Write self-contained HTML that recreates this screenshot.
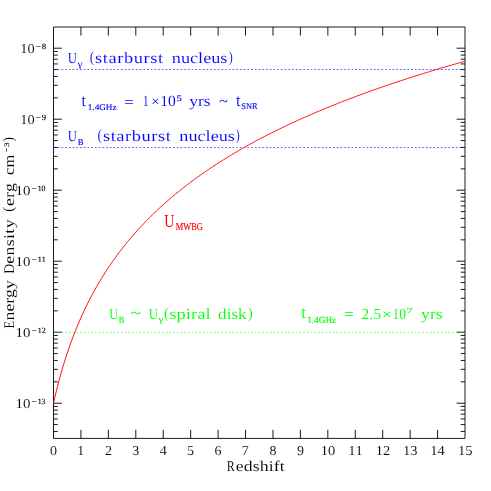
<!DOCTYPE html>
<html><head><meta charset="utf-8"><title>Energy density vs redshift</title>
<style>
html,body{margin:0;padding:0;background:#fff;}
body{width:491px;height:491px;overflow:hidden;font-family:"Liberation Serif",serif;}
svg{display:block;}
svg text{font-family:"Liberation Serif",serif;font-kerning:none;text-rendering:geometricPrecision;}
svg text.e{stroke:#fff;stroke-width:0.08;vector-effect:non-scaling-stroke;}
svg text.k{stroke-width:0.15;vector-effect:non-scaling-stroke;}
#w{will-change:transform;width:491px;height:491px;}
</style></head><body><div id="w">
<svg width="491" height="491" viewBox="0 0 491 491">
<path d="M53.5,27.0H465.0V438.4H53.5Z" fill="none" stroke="#000" stroke-width="0.9"/>
<path d="M80.93,438.4v-8.6M80.93,27.0v8.6M108.37,438.4v-8.6M108.37,27.0v8.6M135.80,438.4v-8.6M135.80,27.0v8.6M163.23,438.4v-8.6M163.23,27.0v8.6M190.67,438.4v-8.6M190.67,27.0v8.6M218.10,438.4v-8.6M218.10,27.0v8.6M245.53,438.4v-8.6M245.53,27.0v8.6M272.97,438.4v-8.6M272.97,27.0v8.6M300.40,438.4v-8.6M300.40,27.0v8.6M327.83,438.4v-8.6M327.83,27.0v8.6M355.27,438.4v-8.6M355.27,27.0v8.6M382.70,438.4v-8.6M382.70,27.0v8.6M410.13,438.4v-8.6M410.13,27.0v8.6M437.57,438.4v-8.6M437.57,27.0v8.6M53.5,431.45h4.3M465.0,431.45h-4.3M53.5,424.57h4.3M465.0,424.57h-4.3M53.5,418.95h4.3M465.0,418.95h-4.3M53.5,414.20h4.3M465.0,414.20h-4.3M53.5,410.08h4.3M465.0,410.08h-4.3M53.5,406.45h4.3M465.0,406.45h-4.3M53.5,403.20h8.4M465.0,403.20h-8.4M53.5,381.83h4.3M465.0,381.83h-4.3M53.5,369.32h4.3M465.0,369.32h-4.3M53.5,360.45h4.3M465.0,360.45h-4.3M53.5,353.57h4.3M465.0,353.57h-4.3M53.5,347.95h4.3M465.0,347.95h-4.3M53.5,343.20h4.3M465.0,343.20h-4.3M53.5,339.08h4.3M465.0,339.08h-4.3M53.5,335.45h4.3M465.0,335.45h-4.3M53.5,332.20h8.4M465.0,332.20h-8.4M53.5,310.83h4.3M465.0,310.83h-4.3M53.5,298.32h4.3M465.0,298.32h-4.3M53.5,289.45h4.3M465.0,289.45h-4.3M53.5,282.57h4.3M465.0,282.57h-4.3M53.5,276.95h4.3M465.0,276.95h-4.3M53.5,272.20h4.3M465.0,272.20h-4.3M53.5,268.08h4.3M465.0,268.08h-4.3M53.5,264.45h4.3M465.0,264.45h-4.3M53.5,261.20h8.4M465.0,261.20h-8.4M53.5,239.83h4.3M465.0,239.83h-4.3M53.5,227.32h4.3M465.0,227.32h-4.3M53.5,218.45h4.3M465.0,218.45h-4.3M53.5,211.57h4.3M465.0,211.57h-4.3M53.5,205.95h4.3M465.0,205.95h-4.3M53.5,201.20h4.3M465.0,201.20h-4.3M53.5,197.08h4.3M465.0,197.08h-4.3M53.5,193.45h4.3M465.0,193.45h-4.3M53.5,190.20h8.4M465.0,190.20h-8.4M53.5,168.83h4.3M465.0,168.83h-4.3M53.5,156.32h4.3M465.0,156.32h-4.3M53.5,147.45h4.3M465.0,147.45h-4.3M53.5,140.57h4.3M465.0,140.57h-4.3M53.5,134.95h4.3M465.0,134.95h-4.3M53.5,130.20h4.3M465.0,130.20h-4.3M53.5,126.08h4.3M465.0,126.08h-4.3M53.5,122.45h4.3M465.0,122.45h-4.3M53.5,119.20h8.4M465.0,119.20h-8.4M53.5,97.83h4.3M465.0,97.83h-4.3M53.5,85.32h4.3M465.0,85.32h-4.3M53.5,76.45h4.3M465.0,76.45h-4.3M53.5,69.57h4.3M465.0,69.57h-4.3M53.5,63.95h4.3M465.0,63.95h-4.3M53.5,59.20h4.3M465.0,59.20h-4.3M53.5,55.08h4.3M465.0,55.08h-4.3M53.5,51.45h4.3M465.0,51.45h-4.3M53.5,48.20h8.4M465.0,48.20h-8.4" fill="none" stroke="#000" stroke-width="0.9"/>
<path d="M54.0,69.50H464.5" stroke="#00f" stroke-opacity="0.62" stroke-width="1" stroke-dasharray="1.7 2.02" fill="none"/>
<path d="M54.0,147.50H464.5" stroke="#00f" stroke-opacity="0.62" stroke-width="1" stroke-dasharray="1.7 2.02" fill="none"/>
<path d="M54.0,332.40H464.5" stroke="#0f0" stroke-opacity="0.62" stroke-width="1" stroke-dasharray="1.7 2.02" fill="none"/>
<polyline points="53.50,403.20 54.87,397.18 56.24,391.44 57.62,385.96 58.99,380.71 60.36,375.68 61.73,370.84 63.10,366.19 64.47,361.70 65.84,357.37 67.22,353.19 68.59,349.15 69.96,345.23 71.33,341.43 72.70,337.75 74.08,334.18 75.45,330.70 76.82,327.32 78.19,324.03 79.56,320.83 80.93,317.71 82.31,314.66 83.68,311.69 85.05,308.79 86.42,305.95 87.79,303.18 89.16,300.47 90.53,297.82 91.91,295.22 93.28,292.68 94.65,290.19 96.02,287.74 97.39,285.35 98.77,283.00 100.14,280.69 101.51,278.43 102.88,276.21 104.25,274.02 105.62,271.88 107.00,269.77 108.37,267.70 109.74,265.66 111.11,263.65 112.48,261.68 113.85,259.74 115.22,257.83 116.60,255.94 117.97,254.09 119.34,252.26 120.71,250.46 122.08,248.68 123.45,246.94 124.83,245.21 126.20,243.51 127.57,241.83 128.94,240.18 130.31,238.54 131.69,236.93 133.06,235.34 134.43,233.77 135.80,232.21 137.17,230.68 138.54,229.17 139.91,227.67 141.29,226.20 142.66,224.74 144.03,223.29 145.40,221.87 146.77,220.46 148.15,219.07 149.52,217.69 150.89,216.32 152.26,214.98 153.63,213.64 155.00,212.32 156.38,211.02 157.75,209.73 159.12,208.45 160.49,207.18 161.86,205.93 163.23,204.69 164.60,203.47 165.98,202.25 167.35,201.05 168.72,199.86 170.09,198.67 171.46,197.51 172.83,196.35 174.21,195.20 175.58,194.06 176.95,192.94 178.32,191.82 179.69,190.71 181.06,189.62 182.44,188.53 183.81,187.45 185.18,186.39 186.55,185.33 187.92,184.28 189.30,183.24 190.67,182.21 192.04,181.18 193.41,180.17 194.78,179.16 196.15,178.16 197.53,177.17 198.90,176.19 200.27,175.21 201.64,174.24 203.01,173.29 204.38,172.33 205.75,171.39 207.13,170.45 208.50,169.52 209.87,168.59 211.24,167.68 212.61,166.77 213.98,165.86 215.36,164.97 216.73,164.08 218.10,163.19 219.47,162.31 220.84,161.44 222.22,160.58 223.59,159.72 224.96,158.86 226.33,158.02 227.70,157.17 229.07,156.34 230.44,155.51 231.82,154.68 233.19,153.86 234.56,153.05 235.93,152.24 237.30,151.44 238.68,150.64 240.05,149.85 241.42,149.06 242.79,148.27 244.16,147.50 245.53,146.72 246.91,145.95 248.28,145.19 249.65,144.43 251.02,143.68 252.39,142.93 253.76,142.18 255.13,141.44 256.51,140.70 257.88,139.97 259.25,139.25 260.62,138.52 261.99,137.80 263.37,137.09 264.74,136.38 266.11,135.67 267.48,134.97 268.85,134.27 270.22,133.57 271.60,132.88 272.97,132.20 274.34,131.51 275.71,130.83 277.08,130.16 278.45,129.48 279.82,128.82 281.20,128.15 282.57,127.49 283.94,126.83 285.31,126.18 286.68,125.53 288.06,124.88 289.43,124.23 290.80,123.59 292.17,122.96 293.54,122.32 294.91,121.69 296.28,121.06 297.66,120.44 299.03,119.82 300.40,119.20 301.77,118.58 303.14,117.97 304.51,117.36 305.89,116.76 307.26,116.15 308.63,115.55 310.00,114.96 311.37,114.36 312.75,113.77 314.12,113.18 315.49,112.60 316.86,112.01 318.23,111.43 319.60,110.86 320.98,110.28 322.35,109.71 323.72,109.14 325.09,108.57 326.46,108.01 327.83,107.44 329.21,106.89 330.58,106.33 331.95,105.77 333.32,105.22 334.69,104.67 336.06,104.13 337.44,103.58 338.81,103.04 340.18,102.50 341.55,101.96 342.92,101.43 344.29,100.89 345.67,100.36 347.04,99.84 348.41,99.31 349.78,98.79 351.15,98.26 352.52,97.74 353.89,97.23 355.27,96.71 356.64,96.20 358.01,95.69 359.38,95.18 360.75,94.67 362.12,94.17 363.50,93.67 364.87,93.17 366.24,92.67 367.61,92.17 368.98,91.68 370.36,91.19 371.73,90.69 373.10,90.21 374.47,89.72 375.84,89.24 377.21,88.75 378.58,88.27 379.96,87.79 381.33,87.32 382.70,86.84 384.07,86.37 385.44,85.89 386.81,85.43 388.19,84.96 389.56,84.49 390.93,84.03 392.30,83.56 393.67,83.10 395.04,82.64 396.42,82.19 397.79,81.73 399.16,81.27 400.53,80.82 401.90,80.37 403.27,79.92 404.65,79.47 406.02,79.03 407.39,78.58 408.76,78.14 410.13,77.70 411.50,77.26 412.88,76.82 414.25,76.39 415.62,75.95 416.99,75.52 418.36,75.08 419.74,74.65 421.11,74.23 422.48,73.80 423.85,73.37 425.22,72.95 426.59,72.52 427.97,72.10 429.34,71.68 430.71,71.26 432.08,70.85 433.45,70.43 434.82,70.02 436.19,69.60 437.57,69.19 438.94,68.78 440.31,68.37 441.68,67.96 443.05,67.56 444.43,67.15 445.80,66.75 447.17,66.35 448.54,65.94 449.91,65.54 451.28,65.15 452.66,64.75 454.03,64.35 455.40,63.96 456.77,63.56 458.14,63.17 459.51,62.78 460.88,62.39 462.26,62.00 463.63,61.62 465.00,61.23" fill="none" stroke="#f00" stroke-width="0.95"/>
<g><text transform="translate(50.00,454.80) scale(1.0306,1.0)" font-size="13.6" fill="#000" class="e">0</text></g>
<g><text transform="translate(77.29,454.80) scale(1.0165,1.0)" font-size="13.6" fill="#000" class="e">1</text></g>
<g><text transform="translate(104.95,454.80) scale(1.0266,1.0)" font-size="13.6" fill="#000" class="e">2</text></g>
<g><text transform="translate(132.24,454.80) scale(1.0288,1.0)" font-size="13.6" fill="#000" class="e">3</text></g>
<g><text transform="translate(159.68,454.80) scale(1.0367,1.0)" font-size="13.6" fill="#000" class="e">4</text></g>
<g><text transform="translate(187.04,454.80) scale(1.0270,1.0)" font-size="13.6" fill="#000" class="e">5</text></g>
<g><text transform="translate(214.50,454.80) scale(1.0312,1.0)" font-size="13.6" fill="#000" class="e">6</text></g>
<g><text transform="translate(241.78,454.80) scale(1.0274,1.0)" font-size="13.6" fill="#000" class="e">7</text></g>
<g><text transform="translate(269.46,454.80) scale(1.0306,1.0)" font-size="13.6" fill="#000" class="e">8</text></g>
<g><text transform="translate(296.96,454.80) scale(1.0311,1.0)" font-size="13.6" fill="#000" class="e">9</text></g>
<g><text transform="translate(320.72,454.80) scale(1.0663,1.0)" font-size="13.6" fill="#000" class="e">10</text></g>
<g><text transform="translate(348.32,454.80) scale(1.0655,1.0)" font-size="13.6" fill="#000" class="e">11</text></g>
<g><text transform="translate(375.72,454.80) scale(1.0657,1.0)" font-size="13.6" fill="#000" class="e">12</text></g>
<g><text transform="translate(403.03,454.80) scale(1.0663,1.0)" font-size="13.6" fill="#000" class="e">13</text></g>
<g><text transform="translate(430.29,454.80) scale(1.0672,1.0)" font-size="13.6" fill="#000" class="e">14</text></g>
<g><text transform="translate(457.90,454.80) scale(1.0663,1.0)" font-size="13.6" fill="#000" class="e">15</text></g>
<g><text transform="translate(226.75,471.00) scale(0.8171,1.0)" font-size="14.8" fill="#000" class="e">R</text><text transform="translate(235.81,471.00) scale(1.2000,1.0)" font-size="14.8" fill="#000" letter-spacing="0.092" class="e">edshift</text></g>
<g><text transform="translate(15.49,408.00) scale(1.0937,1.0)" font-size="13.6" fill="#000" class="e">10</text><text transform="translate(31.77,404.10) scale(1.0745,1.0)" font-size="8.0" fill="#000" class="k" stroke="#000">−</text><text transform="translate(37.72,403.90) scale(0.9736,1.0)" font-size="8.0" fill="#000" class="k" stroke="#000">13</text></g>
<g><text transform="translate(15.49,337.00) scale(1.0937,1.0)" font-size="13.6" fill="#000" class="e">10</text><text transform="translate(31.77,333.10) scale(1.0745,1.0)" font-size="8.0" fill="#000" class="k" stroke="#000">−</text><text transform="translate(37.70,332.90) scale(0.9919,1.0)" font-size="8.0" fill="#000" class="k" stroke="#000">12</text></g>
<g><text transform="translate(15.49,266.00) scale(1.0937,1.0)" font-size="13.6" fill="#000" class="e">10</text><text transform="translate(31.77,262.10) scale(1.0745,1.0)" font-size="8.0" fill="#000" class="k" stroke="#000">−</text><text transform="translate(37.70,261.90) scale(0.9976,1.0)" font-size="8.0" fill="#000" class="k" stroke="#000">11</text></g>
<g><text transform="translate(15.49,195.00) scale(1.0937,1.0)" font-size="13.6" fill="#000" class="e">10</text><text transform="translate(31.77,191.10) scale(1.0745,1.0)" font-size="8.0" fill="#000" class="k" stroke="#000">−</text><text transform="translate(37.72,190.90) scale(0.9725,1.0)" font-size="8.0" fill="#000" class="k" stroke="#000">10</text></g>
<g><text transform="translate(20.23,124.00) scale(1.0600,1.0)" font-size="13.6" fill="#000" class="e">10</text><text transform="translate(35.62,120.10) scale(1.2088,1.0)" font-size="8.0" fill="#000" class="k" stroke="#000">−</text><text transform="translate(41.82,119.90) scale(1.0838,1.0)" font-size="8.0" fill="#000" class="k" stroke="#000">9</text></g>
<g><text transform="translate(20.23,53.00) scale(1.0600,1.0)" font-size="13.6" fill="#000" class="e">10</text><text transform="translate(35.62,49.10) scale(1.2088,1.0)" font-size="8.0" fill="#000" class="k" stroke="#000">−</text><text transform="translate(41.77,48.90) scale(1.0912,1.0)" font-size="8.0" fill="#000" class="k" stroke="#000">8</text></g>
<g><text transform="translate(13.50,328.46) rotate(-90) scale(0.8379,1.0)" font-size="14.8" fill="#000" class="e">E</text><text transform="translate(13.50,320.40) rotate(-90) scale(1.1922,1.0)" font-size="14.8" fill="#000" class="e">nergy</text> <text transform="translate(13.50,273.79) rotate(-90) scale(0.9205,1.0)" font-size="14.8" fill="#000" class="e">D</text><text transform="translate(13.50,263.79) rotate(-90) scale(1.2000,1.0)" font-size="14.8" fill="#000" letter-spacing="0.323" class="e">ensity</text> <text transform="translate(12.68,211.72) rotate(-90) scale(1.0260,1.0060)" font-size="14.8" fill="#000" class="e">(</text><text transform="translate(13.50,205.89) rotate(-90) scale(1.1975,1.0)" font-size="14.8" fill="#000" class="e">erg</text> <text transform="translate(13.50,174.93) rotate(-90) scale(1.1165,1.0)" font-size="14.8" fill="#000" class="e">cm</text><text transform="translate(11.27,152.11) rotate(-90) scale(0.9742,1.8740)" font-size="7.5" fill="#000">−</text><text transform="translate(8.68,146.77) rotate(-90) scale(1.1620,0.9129)" font-size="7.5" fill="#000" class="k" stroke="#000">3</text><text transform="translate(12.68,141.48) rotate(-90) scale(0.8945,1.0060)" font-size="14.8" fill="#000" class="e">)</text></g>
<g><text transform="translate(67.83,63.00) scale(0.8258,1.0)" font-size="15.4" fill="#00f" class="e">U</text><text transform="translate(77.47,67.06) scale(1.0379,0.8930)" font-size="11" fill="#00f">γ</text> <text transform="translate(89.65,62.12) scale(0.8849,1.0169)" font-size="15.4" fill="#00f" class="e">(</text><text transform="translate(95.04,63.00) scale(1.2000,1.0)" font-size="15.4" fill="#00f" letter-spacing="0.461" class="e">starburst</text> <text transform="translate(171.78,63.00) scale(1.1836,1.0)" font-size="15.4" fill="#00f" class="e">nucleus</text><text transform="translate(228.76,62.12) scale(0.7838,1.0169)" font-size="15.4" fill="#00f" class="e">)</text></g>
<g><text transform="translate(81.40,105.68) scale(1.0154,1.1337)" font-size="15.4" fill="#00f" class="e">t</text><text transform="translate(87.79,109.50) scale(1.0414,1.0)" font-size="8.8" fill="#00f" class="k" stroke="#00f">1.4GHz</text> <text transform="translate(124.25,106.90) scale(1.1024,1.0)" font-size="15.4" fill="#00f">=</text> <text transform="translate(142.75,106.00) scale(0.7747,1.0)" font-size="15.4" fill="#00f" class="e">1</text><text transform="translate(151.28,106.39) scale(0.9579,0.9248)" font-size="15.4" fill="#00f">×</text><text transform="translate(160.33,106.00) scale(1.0104,1.0)" font-size="15.4" fill="#00f" class="e">10</text><text transform="translate(176.43,100.77) scale(1.2130,0.9405)" font-size="8.8" fill="#00f" class="k" stroke="#00f">5</text> <text transform="translate(189.19,106.00) scale(1.1396,1.0)" font-size="15.4" fill="#00f" class="e">yrs</text> <text transform="translate(219.16,105.70) scale(1.0323,1.0)" font-size="15.4" fill="#00f">~</text> <text transform="translate(235.89,105.68) scale(1.0649,1.1337)" font-size="15.4" fill="#00f" class="e">t</text><text transform="translate(241.24,109.40) scale(0.9505,1.0)" font-size="8.8" fill="#00f" class="k" stroke="#00f">SNR</text></g>
<g><text transform="translate(67.83,141.20) scale(0.8258,1.0)" font-size="15.4" fill="#00f" class="e">U</text><text transform="translate(77.85,144.80) scale(0.9834,1.0)" font-size="8.8" fill="#00f" class="k" stroke="#00f">B</text> <text transform="translate(97.55,140.32) scale(0.8849,1.0169)" font-size="15.4" fill="#00f" class="e">(</text><text transform="translate(102.94,141.20) scale(1.2000,1.0)" font-size="15.4" fill="#00f" letter-spacing="0.450" class="e">starburst</text> <text transform="translate(179.28,141.20) scale(1.1836,1.0)" font-size="15.4" fill="#00f" class="e">nucleus</text><text transform="translate(235.86,140.32) scale(0.7838,1.0169)" font-size="15.4" fill="#00f" class="e">)</text></g>
<g><text transform="translate(164.20,226.50) scale(0.7671,1.0)" font-size="18.4" fill="#f00">U</text><text transform="translate(175.76,230.30) scale(0.7936,1.0)" font-size="10.6" fill="#f00" class="k" stroke="#f00">MWBG</text></g>
<g><text transform="translate(109.14,318.50) scale(0.8115,1.0)" font-size="15.4" fill="#0f0" class="e">U</text><text transform="translate(118.86,322.90) scale(0.9122,1.0)" font-size="9.3" fill="#0f0" class="k" stroke="#0f0">B</text> <text transform="translate(130.57,318.30) scale(1.2468,1.0)" font-size="15.4" fill="#0f0">~</text> <text transform="translate(148.63,318.50) scale(0.8401,1.0)" font-size="15.4" fill="#0f0" class="e">U</text><text transform="translate(158.17,322.29) scale(1.1028,0.8389)" font-size="11" fill="#0f0">γ</text><text transform="translate(164.00,317.62) scale(0.9607,1.0169)" font-size="15.4" fill="#0f0" class="e">(</text><text transform="translate(169.24,318.50) scale(1.2000,1.0)" font-size="15.4" fill="#0f0" letter-spacing="0.045" class="e">spiral</text> <text transform="translate(218.08,318.50) scale(1.1109,1.0)" font-size="15.4" fill="#0f0" class="e">disk</text><text transform="translate(247.66,317.62) scale(0.9860,1.0169)" font-size="15.4" fill="#0f0" class="e">)</text></g>
<g><text transform="translate(301.34,318.38) scale(1.0773,1.1224)" font-size="15.4" fill="#0f0" class="e">t</text><text transform="translate(307.19,322.80) scale(0.9926,1.0)" font-size="9.3" fill="#0f0" class="k" stroke="#0f0">1.4GHz</text> <text transform="translate(343.93,319.40) scale(1.1303,1.0)" font-size="15.4" fill="#0f0">=</text> <text transform="translate(361.20,318.50) scale(1.0350,1.0)" font-size="15.4" fill="#0f0" class="e">2.5</text><text transform="translate(381.81,318.89) scale(1.1814,0.9248)" font-size="15.4" fill="#0f0">×</text><text transform="translate(392.41,318.50) scale(0.8767,1.0)" font-size="15.4" fill="#0f0" class="e">10</text><text transform="translate(406.44,313.35) scale(1.4020,0.8330)" font-size="8.8" fill="#0f0" class="k" stroke="#0f0">7</text> <text transform="translate(421.08,318.50) scale(1.1506,1.0)" font-size="15.4" fill="#0f0" class="e">yrs</text></g>
</svg></div>
</body></html>
